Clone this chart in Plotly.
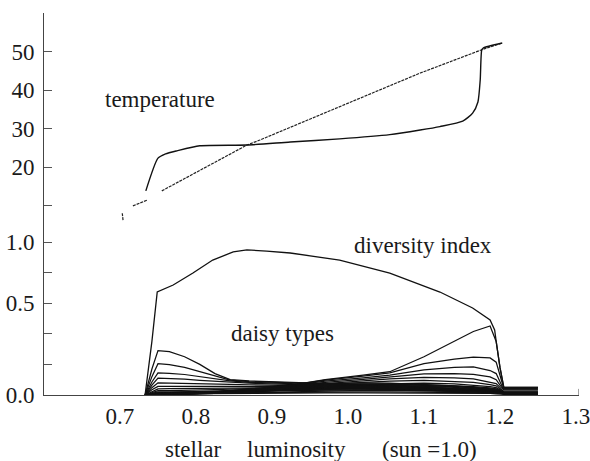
import plotly.graph_objects as go

# ---------------- data ----------------
# x ticks
lum_ticks = [0.7, 0.8, 0.9, 1.0, 1.1, 1.2, 1.3]
lum_ticktext = ["0.7", "0.8", "0.9", "1.0", "1.1", "1.2", "1.3"]

# temperature panel ticks
temp_ticks = [10, 20, 30, 40, 50, 60]
temp_ticktext = ["", "20", "30", "40", "50", ""]

# lower panel ticks (equally spaced ticks as printed in the figure)
div_ticks = [0.0, 0.2, 0.4, 0.6, 0.8, 1.0]
div_ticktext = ["0.0", "", "", "0.5", "", "1.0"]

# temperature with daisies (solid)
temp_life_lum = [0.734, 0.750, 0.760, 0.775, 0.805, 0.867, 0.924, 0.989, 1.055,
                 1.095, 1.121, 1.151, 1.164, 1.171, 1.174, 1.176, 1.178, 1.203]
temp_life_val = [13.8, 22.3, 23.4, 24.2, 25.5, 25.7, 26.5, 27.3, 28.4,
                 29.6, 30.5, 31.9, 34.0, 36.9, 42.6, 50.4, 50.9, 52.2]

# temperature of lifeless planet (dotted)
temp_dead_lum = [0.703, 0.704, None, 0.717, 0.736, None, 0.755, 0.867, 0.884,
                 1.095, 1.178, 1.203]
temp_dead_val = [8.0, 6.2, None, 9.9, 11.4, None, 13.8, 25.7, 27.0,
                 44.4, 50.6, 52.2]

# diversity index
div_lum = [0.733, 0.742, 0.749, 0.770, 0.796, 0.822, 0.849, 0.867, 0.893, 0.924,
           0.989, 1.055, 1.121, 1.164, 1.187, 1.193, 1.195, 1.200, 1.205, 1.21, 1.25]
div_val = [0.0, 0.35, 0.673, 0.719, 0.797, 0.882, 0.935, 0.948, 0.941, 0.928,
           0.882, 0.797, 0.673, 0.569, 0.49, 0.425, 0.35, 0.18, 0.052, 0.05, 0.05]

# daisy types, sampled on a common luminosity grid
daisy_lum = [0.733, 0.742, 0.750, 0.765, 0.785, 0.805, 0.825, 0.845, 0.87, 0.92, 0.97,
             1.02, 1.055, 1.10, 1.14, 1.165, 1.187, 1.195, 1.200, 1.205, 1.21, 1.25]

daisy_L1 = [0, 0.17, 0.29, 0.283, 0.25, 0.20, 0.14, 0.10, 0.092, 0.085, 0.078,
            0.07, 0.062, 0.052, 0.042, 0.035, 0.028, 0.024, 0.018, 0.01, 0.01, 0.01]
daisy_L2 = [0, 0.12, 0.205, 0.198, 0.18, 0.152, 0.12, 0.097, 0.088, 0.08, 0.073,
            0.066, 0.058, 0.048, 0.039, 0.032, 0.026, 0.022, 0.017, 0.01, 0.01, 0.01]
daisy_L3 = [0, 0.085, 0.144, 0.142, 0.134, 0.121, 0.106, 0.092, 0.083, 0.075, 0.068,
            0.061, 0.054, 0.045, 0.036, 0.03, 0.024, 0.02, 0.016, 0.01, 0.01, 0.01]
daisy_L4 = [0, 0.065, 0.11, 0.108, 0.103, 0.096, 0.089, 0.083, 0.077, 0.07, 0.063,
            0.057, 0.05, 0.042, 0.034, 0.028, 0.022, 0.019, 0.015, 0.01, 0.01, 0.01]
daisy_L5 = [0, 0.048, 0.08, 0.079, 0.077, 0.074, 0.071, 0.069, 0.067, 0.063, 0.058,
            0.052, 0.046, 0.038, 0.031, 0.026, 0.021, 0.018, 0.014, 0.01, 0.01, 0.01]
daisy_L6 = [0, 0.034, 0.056, 0.056, 0.056, 0.056, 0.056, 0.057, 0.058, 0.057, 0.053,
            0.048, 0.042, 0.035, 0.029, 0.025, 0.02, 0.017, 0.013, 0.01, 0.01, 0.01]
daisy_L7 = [0, 0.024, 0.04, 0.041, 0.042, 0.043, 0.045, 0.047, 0.049, 0.052, 0.05,
            0.046, 0.04, 0.033, 0.028, 0.024, 0.019, 0.016, 0.012, 0.01, 0.01, 0.01]
daisy_L8 = [0, 0.017, 0.028, 0.029, 0.03, 0.032, 0.035, 0.039, 0.043, 0.048, 0.047,
            0.044, 0.038, 0.032, 0.027, 0.023, 0.018, 0.015, 0.012, 0.01, 0.01, 0.01]

daisy_R1 = [0, 0.004, 0.006, 0.007, 0.008, 0.01, 0.013, 0.02, 0.03, 0.06, 0.1,
            0.13, 0.152, 0.25, 0.35, 0.415, 0.451, 0.35, 0.18, 0.05, 0.05, 0.05]
daisy_R2 = [0, 0.004, 0.006, 0.007, 0.008, 0.01, 0.013, 0.02, 0.03, 0.062, 0.097,
            0.123, 0.145, 0.205, 0.235, 0.248, 0.242, 0.215, 0.12, 0.044, 0.044, 0.044]
daisy_R3 = [0, 0.003, 0.005, 0.006, 0.007, 0.009, 0.012, 0.018, 0.028, 0.058, 0.09,
            0.112, 0.13, 0.165, 0.18, 0.183, 0.16, 0.14, 0.085, 0.033, 0.033, 0.033]
daisy_R4 = [0, 0.003, 0.005, 0.006, 0.007, 0.009, 0.012, 0.017, 0.027, 0.054, 0.083,
            0.102, 0.118, 0.138, 0.14, 0.135, 0.118, 0.1, 0.065, 0.033, 0.033, 0.033]
daisy_R5 = [0, 0.003, 0.005, 0.006, 0.007, 0.009, 0.011, 0.016, 0.025, 0.05, 0.075,
            0.092, 0.105, 0.115, 0.112, 0.105, 0.085, 0.075, 0.05, 0.02, 0.02, 0.02]
daisy_R6 = [0, 0.003, 0.005, 0.006, 0.007, 0.008, 0.01, 0.015, 0.023, 0.046, 0.067,
            0.082, 0.09, 0.095, 0.09, 0.082, 0.068, 0.06, 0.04, 0.02, 0.02, 0.02]
daisy_R7 = [0, 0.003, 0.005, 0.006, 0.007, 0.008, 0.01, 0.013, 0.02, 0.041, 0.058,
            0.07, 0.075, 0.077, 0.072, 0.065, 0.054, 0.048, 0.035, 0.013, 0.013, 0.013]
daisy_R8 = [0, 0.003, 0.005, 0.006, 0.007, 0.008, 0.01, 0.013, 0.019, 0.036, 0.05,
            0.06, 0.062, 0.06, 0.056, 0.05, 0.042, 0.038, 0.028, 0.013, 0.013, 0.013]
daisy_B1 = [0, 0.01, 0.02, 0.021, 0.022, 0.023, 0.024, 0.026, 0.028, 0.03, 0.032,
            0.033, 0.032, 0.03, 0.027, 0.024, 0.02, 0.017, 0.013, 0.01, 0.01, 0.01]
daisy_B2 = [0, 0.006, 0.012, 0.012, 0.013, 0.014, 0.015, 0.016, 0.017, 0.019, 0.02,
            0.021, 0.021, 0.02, 0.018, 0.016, 0.014, 0.012, 0.01, 0.006, 0.006, 0.006]
daisy_B3 = [0, 0.004, 0.007, 0.007, 0.008, 0.009, 0.01, 0.011, 0.012, 0.013, 0.014,
            0.014, 0.014, 0.013, 0.012, 0.011, 0.01, 0.008, 0.006, 0.004, 0.004, 0.004]
daisy_M1 = [0, 0.008, 0.015, 0.016, 0.018, 0.021, 0.025, 0.03, 0.036, 0.044, 0.05,
            0.054, 0.054, 0.05, 0.044, 0.038, 0.03, 0.026, 0.02, 0.01, 0.01, 0.01]
daisy_M2 = [0, 0.006, 0.01, 0.011, 0.013, 0.016, 0.02, 0.026, 0.033, 0.043, 0.056,
            0.066, 0.07, 0.068, 0.062, 0.055, 0.046, 0.04, 0.03, 0.013, 0.013, 0.013]
daisy_M3 = [0, 0.005, 0.009, 0.01, 0.012, 0.015, 0.019, 0.024, 0.031, 0.038, 0.044,
            0.048, 0.047, 0.043, 0.038, 0.033, 0.027, 0.023, 0.018, 0.01, 0.01, 0.01]
daisy_M4 = [0, 0.004, 0.008, 0.009, 0.011, 0.013, 0.016, 0.02, 0.025, 0.034, 0.039,
            0.041, 0.04, 0.037, 0.033, 0.029, 0.024, 0.02, 0.016, 0.01, 0.01, 0.01]
daisy_C1 = [0, 0.005, 0.009, 0.010, 0.012, 0.015, 0.020, 0.028, 0.040, 0.062, 0.075,
            0.080, 0.078, 0.070, 0.060, 0.050, 0.040, 0.033, 0.025, 0.013, 0.013, 0.013]
daisy_C2 = [0, 0.005, 0.009, 0.010, 0.012, 0.015, 0.020, 0.027, 0.037, 0.056, 0.068,
            0.073, 0.071, 0.064, 0.055, 0.046, 0.037, 0.030, 0.022, 0.013, 0.013, 0.013]
daisy_C3 = [0, 0.004, 0.008, 0.009, 0.011, 0.014, 0.018, 0.025, 0.034, 0.050, 0.061,
            0.066, 0.064, 0.058, 0.050, 0.042, 0.034, 0.028, 0.020, 0.010, 0.010, 0.010]
daisy_C4 = [0, 0.004, 0.008, 0.009, 0.011, 0.013, 0.017, 0.023, 0.031, 0.045, 0.055,
            0.059, 0.058, 0.052, 0.045, 0.038, 0.031, 0.025, 0.018, 0.010, 0.010, 0.010]
daisy_C5 = [0, 0.004, 0.007, 0.008, 0.010, 0.012, 0.016, 0.021, 0.028, 0.040, 0.048,
            0.052, 0.051, 0.046, 0.040, 0.034, 0.028, 0.023, 0.017, 0.010, 0.010, 0.010]
daisy_C6 = [0, 0.003, 0.006, 0.007, 0.009, 0.011, 0.014, 0.019, 0.025, 0.035, 0.042,
            0.045, 0.044, 0.040, 0.035, 0.030, 0.025, 0.020, 0.015, 0.008, 0.008, 0.008]
daisy_C7 = [0, 0.003, 0.006, 0.007, 0.008, 0.010, 0.013, 0.017, 0.022, 0.030, 0.036,
            0.038, 0.037, 0.034, 0.030, 0.026, 0.022, 0.018, 0.013, 0.008, 0.008, 0.008]
daisy_C8 = [0, 0.003, 0.005, 0.006, 0.007, 0.009, 0.011, 0.015, 0.019, 0.025, 0.029,
            0.031, 0.030, 0.028, 0.025, 0.022, 0.019, 0.016, 0.012, 0.006, 0.006, 0.006]

daisy_types = [daisy_L1, daisy_L2, daisy_L3, daisy_L4, daisy_L5, daisy_L6, daisy_L7,
               daisy_L8, daisy_R1, daisy_R2, daisy_R3, daisy_R4, daisy_R5, daisy_R6,
               daisy_R7, daisy_R8, daisy_B1, daisy_B2, daisy_B3, daisy_M1, daisy_M2,
               daisy_M3, daisy_M4, daisy_C1, daisy_C2, daisy_C3, daisy_C4, daisy_C5,
               daisy_C6, daisy_C7, daisy_C8]

# ---------------- layout geometry ----------------
W, H = 590, 461
ML, MR, MT, MB = 44, 11, 13, 66
plot_h = H - MT - MB
split_px = 230
bottom_px = H - MB


def paper_y(pix):
    return (bottom_px - pix) / plot_h


split = paper_y(split_px)
FONT = "Times New Roman, Liberation Serif, Tinos, serif"
FS = 23
INK = "#1a1a1a"

fig = go.Figure()

for vals in daisy_types:
    fig.add_trace(go.Scatter(x=daisy_lum, y=vals, mode="lines",
                             line=dict(color="#111111", width=1.25),
                             xaxis="x", yaxis="y", hoverinfo="skip", showlegend=False))

fig.add_trace(go.Scatter(x=div_lum, y=div_val, mode="lines",
                         line=dict(color="#111111", width=1.3),
                         xaxis="x", yaxis="y", hoverinfo="skip", showlegend=False))

fig.add_trace(go.Scatter(x=temp_dead_lum, y=temp_dead_val, mode="lines",
                         line=dict(color="#222222", width=1.2, dash="3px,1px"),
                         connectgaps=False,
                         xaxis="x", yaxis="y2", hoverinfo="skip", showlegend=False))

fig.add_trace(go.Scatter(x=temp_life_lum, y=temp_life_val, mode="lines",
                         line=dict(color="#111111", width=1.4, shape="spline", smoothing=0.6),
                         xaxis="x", yaxis="y2", hoverinfo="skip", showlegend=False))

axis_common = dict(showgrid=False, zeroline=False, showline=True, automargin=False,
                   linecolor="#444444", linewidth=1, ticklabeloverflow="allow",
                   tickfont=dict(family=FONT, size=FS, color=INK))

fig.update_layout(
    width=W, height=H,
    margin=dict(l=ML, r=MR, t=MT, b=MB, pad=0, autoexpand=False),
    paper_bgcolor="white", plot_bgcolor="white",
    showlegend=False,
    xaxis=dict(range=[0.6, 1.304], domain=[0, 1], anchor="y",
               tickmode="array", tickvals=lum_ticks, ticktext=lum_ticktext,
               ticks="", ticklabelstandoff=0, **axis_common),
    yaxis=dict(range=[0, (bottom_px - split_px) / 153.0], domain=[0, split], anchor="x",
               tickmode="array", tickvals=div_ticks, ticktext=div_ticktext,
               ticks="inside", ticklen=8, tickcolor="#555555", tickwidth=1,
               ticklabelstandoff=4, **axis_common),
    yaxis2=dict(range=[60 - (split_px - MT) / 3.85, 60], domain=[split, 1], anchor="x",
                tickmode="array", tickvals=temp_ticks, ticktext=temp_ticktext,
                ticks="inside", ticklen=8, tickcolor="#555555", tickwidth=1,
                ticklabelstandoff=4, **axis_common),
)

# small end tick on the x axis at 1.3
fig.add_shape(type="line", xref="x", yref="y", x0=1.304, x1=1.304, y0=0, y1=0.04,
              line=dict(color="#444444", width=1))

ann_font = dict(family=FONT, size=FS, color=INK)
fig.add_annotation(text="temperature", xref="x", yref="y2", x=0.753, y=37.5,
                   showarrow=False, font=ann_font)
fig.add_annotation(text="diversity index", xref="x", yref="y", x=1.099, y=0.975,
                   showarrow=False, font=ann_font)
fig.add_annotation(text="daisy types", xref="x", yref="y", x=0.914, y=0.40,
                   showarrow=False, font=ann_font)

for txt, xc in [("stellar", 0.6 + (193.5 - 43.5) / 760.7),
                ("luminosity", 0.6 + (296 - 43.5) / 760.7),
                ("(sun =1.0)", 0.6 + (429 - 43.5) / 760.7)]:
    fig.add_annotation(text=txt, xref="x", yref="paper", x=xc, y=paper_y(449),
                       showarrow=False, font=ann_font, yanchor="middle")

fig.write_html("out.html")
